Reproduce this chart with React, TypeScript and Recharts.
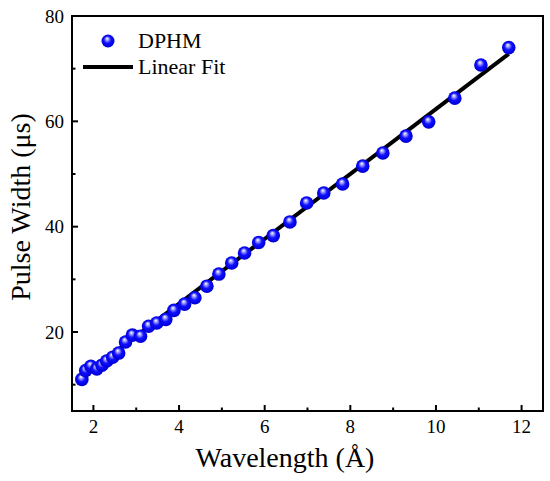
import {
  ScatterChart, Scatter, XAxis, YAxis,
} from "recharts";

const wavelength = [
  1.73, 1.82, 1.94, 2.08, 2.2, 2.31, 2.45, 2.59, 2.75, 2.91, 3.1, 3.29,
  3.48, 3.69, 3.88, 4.13, 4.37, 4.65, 4.93, 5.23, 5.53, 5.86, 6.2, 6.59,
  6.98, 7.38, 7.82, 8.29, 8.76, 9.3, 9.83, 10.44, 11.05, 11.7,
];
const pulseWidth = [
  11.0, 12.7, 13.5, 13.0, 13.7, 14.5, 15.2, 16.0, 18.1, 19.4, 19.2, 21.1,
  21.7, 22.4, 24.1, 25.3, 26.5, 28.7, 31.0, 33.1, 35.0, 37.0, 38.3, 40.9,
  44.5, 46.4, 48.1, 51.5, 54.0, 57.2, 59.9, 64.4, 70.7, 74.0,
];

// linear fit end points
const fitX = [1.73, 11.7];
const fitY = [11.4, 72.8];

const xMajor = [2, 4, 6, 8, 10, 12];
const xMinor = [3, 5, 7, 9, 11];
const yMajor = [20, 40, 60, 80];
const yMinor = [10, 30, 50, 70];
const xRange = [1.5, 12.5];
const yRange = [5, 80];

const points = wavelength.map((x, i) => ({ x, y: pulseWidth[i] }));
const fit = fitX.map((x, i) => ({ x, y: fitY[i] }));

const FONT = "'Liberation Serif', 'Times New Roman', serif";
const AXIS_LINE = { stroke: "#000", strokeWidth: 2 };

// plot box: margins used by the chart, frame drawn around it
const W = 550;
const H = 481;
const TOP = 16;
const RIGHT = 7;
const Y_AXIS_W = 72;
const X_AXIS_H = 70;

function Sphere({ cx, cy }: any) {
  if (cx == null || cy == null) return null;
  return <circle cx={cx} cy={cy} r={6.8} fill="url(#sphereGrad)" />;
}

function XTick({ x, y, payload }: any) {
  const major = xMajor.includes(payload.value);
  return (
    <g>
      <line x1={x} x2={x} y1={y} y2={y - (major ? 6 : 3.5)} stroke="#000" strokeWidth={2} />
      {major && (
        <text x={x} y={y + 22} textAnchor="middle" fontFamily={FONT} fontSize={19} fill="#000">
          {payload.value}
        </text>
      )}
    </g>
  );
}

function YTick({ x, y, payload }: any) {
  const major = yMajor.includes(payload.value);
  return (
    <g>
      <line x1={x} x2={x + (major ? 6 : 3.5)} y1={y} y2={y} stroke="#000" strokeWidth={2} />
      {major && (
        <text x={x - 8} y={y + 6.5} textAnchor="end" fontFamily={FONT} fontSize={19} fill="#000">
          {payload.value}
        </text>
      )}
    </g>
  );
}

function LegendBox() {
  return (
    <div style={{ fontFamily: FONT, fontSize: 22, color: "#000", lineHeight: "26px" }}>
      <div style={{ display: "flex", alignItems: "center", height: 26 }}>
        <svg width={60} height={26}>
          <circle cx={33} cy={13} r={6.5} fill="url(#sphereGrad)" />
        </svg>
        <span style={{ marginLeft: 3 }}>DPHM</span>
      </div>
      <div style={{ display: "flex", alignItems: "center", height: 26 }}>
        <svg width={60} height={26}>
          <line x1={8} x2={58} y1={13} y2={13} stroke="#000" strokeWidth={4} />
        </svg>
        <span style={{ marginLeft: 3 }}>Linear Fit</span>
      </div>
    </div>
  );
}

export default function App() {
  document.body.style.margin = "0";
  return (
    <div style={{ width: W, height: H, position: "relative", background: "#fff" }}>
      <svg width={0} height={0} style={{ position: "absolute" }}>
        <defs>
          <radialGradient id="sphereGrad" cx="0.5" cy="0.5" r="0.55" fx="0.42" fy="0.3">
            <stop offset="0" stopColor="#ffffff" />
            <stop offset="0.22" stopColor="#9a9aff" />
            <stop offset="0.5" stopColor="#1010ff" />
            <stop offset="0.85" stopColor="#0000e0" />
            <stop offset="1" stopColor="#00009a" />
          </radialGradient>
        </defs>
      </svg>
      <ScatterChart
        width={W}
        height={H}
        margin={{ top: TOP, right: RIGHT, bottom: 0, left: 0 }}
      >
        <XAxis
          type="number"
          dataKey="x"
          domain={xRange}
          ticks={[...xMajor, ...xMinor].sort((a, b) => a - b)}
          interval={0}
          height={X_AXIS_H}
          axisLine={AXIS_LINE}
          tickLine={false}
          tickSize={0}
          tickMargin={0}
          tick={<XTick />}
          label={{
            content: () => (
              <text x={285} y={467} textAnchor="middle" fontFamily={FONT} fontSize={28} fill="#000">
                Wavelength (Å)
              </text>
            ),
          }}
        />
        <YAxis
          type="number"
          dataKey="y"
          domain={yRange}
          ticks={[...yMinor, ...yMajor].sort((a, b) => a - b)}
          interval={0}
          width={Y_AXIS_W}
          axisLine={AXIS_LINE}
          tickLine={false}
          tickSize={0}
          tickMargin={0}
          tick={<YTick />}
          label={{
            content: () => (
              <text
                x={30}
                y={207}
                transform="rotate(-90 30 207)"
                textAnchor="middle"
                fontFamily={FONT}
                fontSize={28}
                fill="#000"
              >
                Pulse Width (μs)
              </text>
            ),
          }}
        />
        <Scatter
          name="Linear Fit"
          data={fit}
          line={{ stroke: "#000", strokeWidth: 4 }}
          shape={() => null}
          isAnimationActive={false}
        />
        <Scatter
          name="DPHM"
          data={points}
          shape={<Sphere />}
          isAnimationActive={false}
        />
      </ScatterChart>
      {/* frame round the plot area */}
      <div
        style={{
          position: "absolute",
          left: Y_AXIS_W - 1,
          top: TOP - 1,
          width: W - RIGHT - Y_AXIS_W + 2,
          height: H - TOP - X_AXIS_H + 2,
          border: "2px solid #000",
          boxSizing: "border-box",
          pointerEvents: "none",
        }}
      />
      <div style={{ position: "absolute", left: 75, top: 28 }}>
        <LegendBox />
      </div>
    </div>
  );
}
